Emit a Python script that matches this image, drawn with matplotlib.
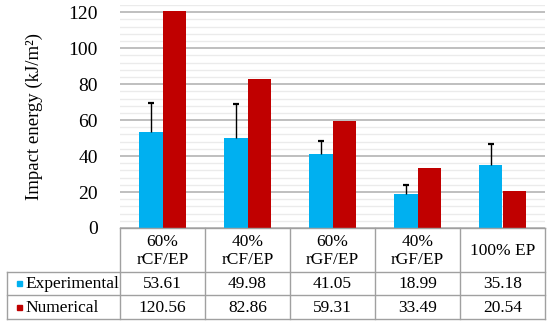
import numpy as np
import matplotlib
matplotlib.use("Agg")
import matplotlib.pyplot as plt
from matplotlib.patches import Rectangle

#--- data ---#
categories = ["60%\nrCF/EP", "40%\nrCF/EP", "60%\nrGF/EP", "40%\nrGF/EP", "100% EP"]
experimental = [53.61, 49.98, 41.05, 18.99, 35.18]
numerical = [120.56, 82.86, 59.31, 33.49, 20.54]
exp_err = [15.7, 18.9, 7.5, 4.7, 11.5]      # upper error bars
series_names = ["Experimental", "Numerical"]

blue = "#00b0f0"
red = "#c00000"
grid_major = "#b4b4b4"
grid_minor = "#ebebeb"
table_line = "#a0a0a0"

plt.rcParams["font.family"] = ["Liberation Serif", "DejaVu Serif"]

W, H = 550, 326
fig = plt.figure(figsize=(W / 100, H / 100), dpi=100)

#--- pixel layout ---#
px_left, px_right = 120, 545
px_top, px_zero = 5, 228
row_bounds = [228, 271.7, 295, 319.3]       # header / row 1 / row 2 bottoms
lab_left = 7

ax = fig.add_axes([px_left / W, 1 - px_zero / H, (px_right - px_left) / W, (px_zero - px_top) / H])
x = np.arange(len(categories))
bw = 0.275
ax.bar(x - bw / 2, experimental, bw, color=blue, zorder=3)
ax.bar(x + bw / 2, numerical, bw, color=red, zorder=3)
eb = ax.errorbar(x - bw / 2, experimental, yerr=[np.zeros(len(exp_err)), exp_err],
                 fmt="none", ecolor="black", elinewidth=1, capsize=2.2, capthick=1.6, zorder=4)
eb[1][0].set_visible(False)     # no cap on the lower (zero) side

ax.set_xlim(-0.5, len(categories) - 0.5)
ax.set_ylim(0, 124)
ax.set_yticks(np.arange(0, 121, 20))
ax.set_yticks(np.arange(0, 125, 4), minor=True)
ax.yaxis.grid(True, which="major", color=grid_major, lw=1.2, zorder=1)
ax.yaxis.grid(True, which="minor", color=grid_minor, lw=1.0, zorder=0)
ax.tick_params(axis="y", which="both", length=0, pad=16, labelsize=14)
ax.tick_params(axis="y", which="minor", labelleft=False)
ax.set_xticks([])
for s in ax.spines.values():
    s.set_visible(False)
ax.set_ylabel("Impact energy (kJ/m²)", fontsize=13.5, labelpad=8)
ax.yaxis.set_label_coords(-(px_left - 43) / (px_right - px_left), 0.5)

#--- data table below the axis ---#
unit = (px_right - px_left) / len(categories)
tx0 = -0.5 - (px_left - lab_left) / unit
tax = fig.add_axes([lab_left / W, 1 - row_bounds[-1] / H, (px_right - lab_left) / W,
                    (row_bounds[-1] - row_bounds[0]) / H])
tax.set_xlim(tx0, len(categories) - 0.5)
tax.set_ylim(row_bounds[-1], row_bounds[0])
tax.axis("off")

lk = dict(color=table_line, lw=1.0, clip_on=False)
edges = np.arange(-0.5, len(categories) + 0.5, 1)
# horizontal lines
tax.plot([-0.5, edges[-1]], [row_bounds[0]] * 2, **lk)
for yb in row_bounds[1:]:
    tax.plot([tx0, edges[-1]], [yb] * 2, **lk)
# vertical lines
for xe in edges:
    tax.plot([xe, xe], [row_bounds[0], row_bounds[-1]], **lk)
tax.plot([tx0, tx0], [row_bounds[1], row_bounds[-1]], **lk)

for i, lab in enumerate(categories):
    tax.text(i, (row_bounds[0] + row_bounds[1]) / 2 + 1, lab, ha="center", va="center",
             fontsize=12.5, linespacing=1.15)
    tax.text(i, (row_bounds[1] + row_bounds[2]) / 2 + 0.5, f"{experimental[i]:.2f}",
             ha="center", va="center", fontsize=12.5)
    tax.text(i, (row_bounds[2] + row_bounds[3]) / 2 + 0.5, f"{numerical[i]:.2f}",
             ha="center", va="center", fontsize=12.5)

sw = 5 / unit
for r, (name, col) in enumerate(zip(series_names, [blue, red])):
    yc = (row_bounds[r + 1] + row_bounds[r + 2]) / 2
    tax.add_patch(Rectangle((tx0 + 10 / unit, yc - 2.5), sw, 5, color=col, clip_on=False))
    tax.text(tx0 + 18 / unit, yc + 0.5, name, ha="left", va="center", fontsize=12.5)

fig.savefig("out.png", dpi=100)
